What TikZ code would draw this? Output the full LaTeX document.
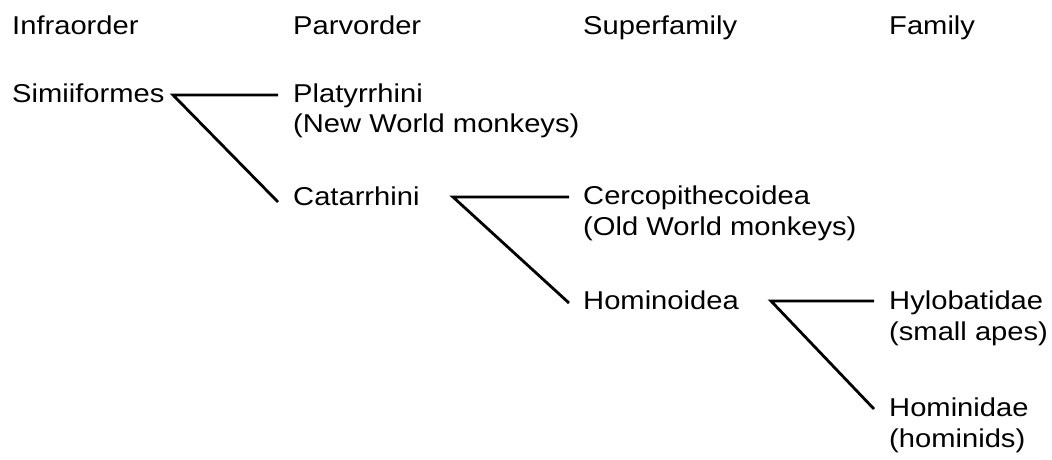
\documentclass[tikz,border=0pt]{standalone}
\usepackage{fontspec}
\setmainfont{Liberation Sans}[FakeStretch=1.13]
\usetikzlibrary{calc}
\begin{document}
\begin{tikzpicture}[x=1pt,y=-1pt,
  lbl/.style={anchor=base west,inner sep=0pt,font=\fontsize{25.8}{31}\selectfont},
  branch/.style={line width=2.8pt,line join=miter,line cap=butt}]
\useasboundingbox (0,0) rectangle (1052,459);
% headers
\node[lbl] (hInfra) at (12,34) {Infraorder};
\node[lbl] (hParv) at (293,34) {Parvorder};
\node[lbl] (hSuper) at (583,34) {Superfamily};
\node[lbl] (hFam) at (889,34) {Family};
% taxa
\node[lbl] (simi) at (12,102) {Simiiformes};
\node[lbl] (plat) at (293,102) {Platyrrhini};
\node[lbl] (platc) at (293,132) {(New World monkeys)};
\node[lbl] (cata) at (293,205) {Catarrhini};
\node[lbl] (cerc) at (583,204) {Cercopithecoidea};
\node[lbl] (cercc) at (583,235) {(Old World monkeys)};
\node[lbl] (homo) at (583,309) {Hominoidea};
\node[lbl] (hylo) at (889,309) {Hylobatidae};
\node[lbl] (hyloc) at (889,340) {(small apes)};
\node[lbl] (homi) at (889,416) {Hominidae};
\node[lbl] (homic) at (889,447) {(hominids)};
% branch points and ends
\coordinate (v1) at (173,95);
\coordinate (a1) at ($(plat.base west)+(-15,-7)$);
\coordinate (b1) at ($(cata.base west)+(-15,-3)$);
\coordinate (v2) at (453,197);
\coordinate (a2) at ($(cerc.base west)+(-14,-7)$);
\coordinate (b2) at ($(homo.base west)+(-14,-6)$);
\coordinate (v3) at (771,301);
\coordinate (a3) at ($(hylo.base west)+(-15,-8)$);
\coordinate (b3) at ($(homi.base west)+(-15,-7)$);
\draw[branch] (a1) -- (v1) -- (b1);
\draw[branch] (a2) -- (v2) -- (b2);
\draw[branch] (a3) -- (v3) -- (b3);
\end{tikzpicture}
\end{document}
